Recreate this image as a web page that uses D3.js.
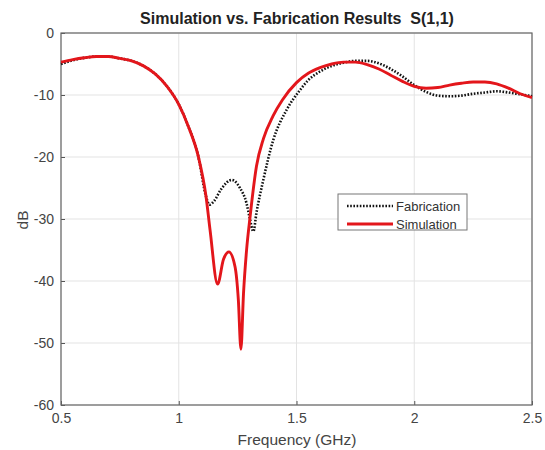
<!DOCTYPE html>
<html>
<head>
<meta charset="utf-8">
<script src="https://cdn.jsdelivr.net/npm/d3@7"></script>
<style>
  body { margin: 0; background: #fff; }
  text { font-family: "Liberation Sans", Arial, sans-serif; white-space: pre; }
</style>
</head>
<body>
<svg id="chart" width="545" height="450"></svg>
<script>
// data
var sim_freq = [0.5, 0.55, 0.6, 0.65, 0.7, 0.75, 0.8, 0.85, 0.9, 0.95, 1.0, 1.04, 1.083, 1.116, 1.133, 1.165, 1.19, 1.213, 1.239, 1.253, 1.264, 1.275, 1.288, 1.303, 1.33, 1.36, 1.40, 1.44, 1.50, 1.55, 1.60, 1.65, 1.70, 1.75, 1.80, 1.85, 1.90, 1.95, 2.00, 2.05, 2.10, 2.15, 2.20, 2.25, 2.30, 2.35, 2.40, 2.45, 2.50];
var sim_db = [-4.7, -4.3, -4.0, -3.8, -3.8, -4.1, -4.5, -5.3, -6.6, -8.6, -11.5, -15, -19.9, -26.4, -31.8, -40.5, -36.5, -35.3, -37.7, -43, -51, -42, -35, -29.6, -21.5, -17, -13.4, -10.8, -8.0, -6.5, -5.6, -5.0, -4.7, -4.7, -5.1, -5.8, -6.8, -7.8, -8.6, -8.9, -8.8, -8.4, -8.1, -7.9, -7.9, -8.2, -8.9, -9.8, -10.4];

var fab_freq = [0.5, 0.55, 0.6, 0.65, 0.7, 0.75, 0.8, 0.85, 0.9, 0.95, 1.0, 1.04, 1.083, 1.116, 1.13, 1.15, 1.18, 1.225, 1.26, 1.288, 1.30, 1.317, 1.33, 1.359, 1.401, 1.458, 1.515, 1.55, 1.60, 1.65, 1.70, 1.75, 1.80, 1.85, 1.90, 1.95, 2.00, 2.05, 2.10, 2.15, 2.20, 2.25, 2.30, 2.35, 2.40, 2.45, 2.50];
var fab_db = [-5.0, -4.4, -4.0, -3.8, -3.8, -4.1, -4.5, -5.3, -6.6, -8.6, -11.5, -15, -19.9, -26.4, -27.7, -27.1, -25.2, -23.7, -25, -27.5, -29.6, -32, -29, -23.7, -17.3, -12.4, -9.2, -7.6, -6.2, -5.3, -4.8, -4.5, -4.5, -4.9, -5.8, -7.0, -8.4, -9.5, -10.1, -10.2, -10.1, -9.8, -9.6, -9.4, -9.6, -9.9, -10.2];

var x_ticks = [0.5, 1, 1.5, 2, 2.5];
var y_ticks = [0, -10, -20, -30, -40, -50, -60];

var svg = d3.select('#chart');
var plot_left = 61, plot_right = 532, plot_top = 33, plot_bottom = 405;

var x = d3.scaleLinear().domain([0.5, 2.5]).range([plot_left, plot_right]);
var y = d3.scaleLinear().domain([-60, 0]).range([plot_bottom, plot_top]);

// grid
svg.append('g').selectAll('line').data(x_ticks).enter().append('line')
    .attr('x1', function(d) { return x(d); }).attr('x2', function(d) { return x(d); })
    .attr('y1', plot_top).attr('y2', plot_bottom)
    .attr('stroke', '#e3e3e3').attr('stroke-width', 1);
svg.append('g').selectAll('line').data(y_ticks).enter().append('line')
    .attr('y1', function(d) { return y(d); }).attr('y2', function(d) { return y(d); })
    .attr('x1', plot_left).attr('x2', plot_right)
    .attr('stroke', '#e3e3e3').attr('stroke-width', 1);

// axes
var xAxis = d3.axisBottom(x).tickValues(x_ticks).tickSizeInner(-4).tickSizeOuter(0).tickPadding(8)
    .tickFormat(function(d) { return d; });
var yAxis = d3.axisLeft(y).tickValues(y_ticks).tickSizeInner(-4).tickSizeOuter(0).tickPadding(7)
    .tickFormat(function(d) { return d; });

var gx = svg.append('g').attr('transform', 'translate(0,' + plot_bottom + ')').call(xAxis);
var gy = svg.append('g').attr('transform', 'translate(' + plot_left + ',0)').call(yAxis);
[gx, gy].forEach(function(g) {
    g.select('.domain').remove();
    g.selectAll('line').attr('stroke', '#555');
    g.selectAll('text').attr('fill', '#444').style('font-size', '14px');
});

// box
svg.append('rect').attr('x', plot_left).attr('y', plot_top)
    .attr('width', plot_right - plot_left).attr('height', plot_bottom - plot_top)
    .attr('fill', 'none').attr('stroke', '#666').attr('stroke-width', 1.2);

// lines
var line = d3.line()
    .x(function(d) { return x(d[0]); })
    .y(function(d) { return y(d[1]); })
    .curve(d3.curveMonotoneX);

var fab = d3.zip(fab_freq, fab_db);
var sim = d3.zip(sim_freq, sim_db);

svg.append('path').datum(fab).attr('d', line)
    .attr('fill', 'none').attr('stroke', '#111').attr('stroke-width', 2.6)
    .attr('stroke-dasharray', '1.6,1.6');
svg.append('path').datum(sim).attr('d', line)
    .attr('fill', 'none').attr('stroke', '#e3161b').attr('stroke-width', 2.9);

// title + labels
svg.append('text').attr('x', 297).attr('y', 24).attr('text-anchor', 'middle')
    .style('font-size', '16px').style('font-weight', 'bold').attr('fill', '#222')
    .text('Simulation vs. Fabrication Results  S(1,1)');
svg.append('text').attr('x', 297).attr('y', 445).attr('text-anchor', 'middle')
    .style('font-size', '15.5px').attr('fill', '#444').text('Frequency (GHz)');
svg.append('text').attr('transform', 'translate(28,220) rotate(-90)').attr('text-anchor', 'middle')
    .style('font-size', '15.5px').attr('fill', '#444').text('dB');

// legend
var lg = svg.append('g');
lg.append('rect').attr('x', 338).attr('y', 194).attr('width', 129).attr('height', 36)
    .attr('fill', '#fff').attr('stroke', '#777').attr('stroke-width', 1);
lg.append('line').attr('x1', 347).attr('x2', 393).attr('y1', 206).attr('y2', 206)
    .attr('stroke', '#111').attr('stroke-width', 2.6).attr('stroke-dasharray', '1.6,1.6');
lg.append('line').attr('x1', 347).attr('x2', 393).attr('y1', 224).attr('y2', 224)
    .attr('stroke', '#e3161b').attr('stroke-width', 2.9);
lg.append('text').attr('x', 396).attr('y', 211).style('font-size', '13px').attr('fill', '#333').text('Fabrication');
lg.append('text').attr('x', 396).attr('y', 229).style('font-size', '13px').attr('fill', '#333').text('Simulation');
</script>
</body>
</html>
